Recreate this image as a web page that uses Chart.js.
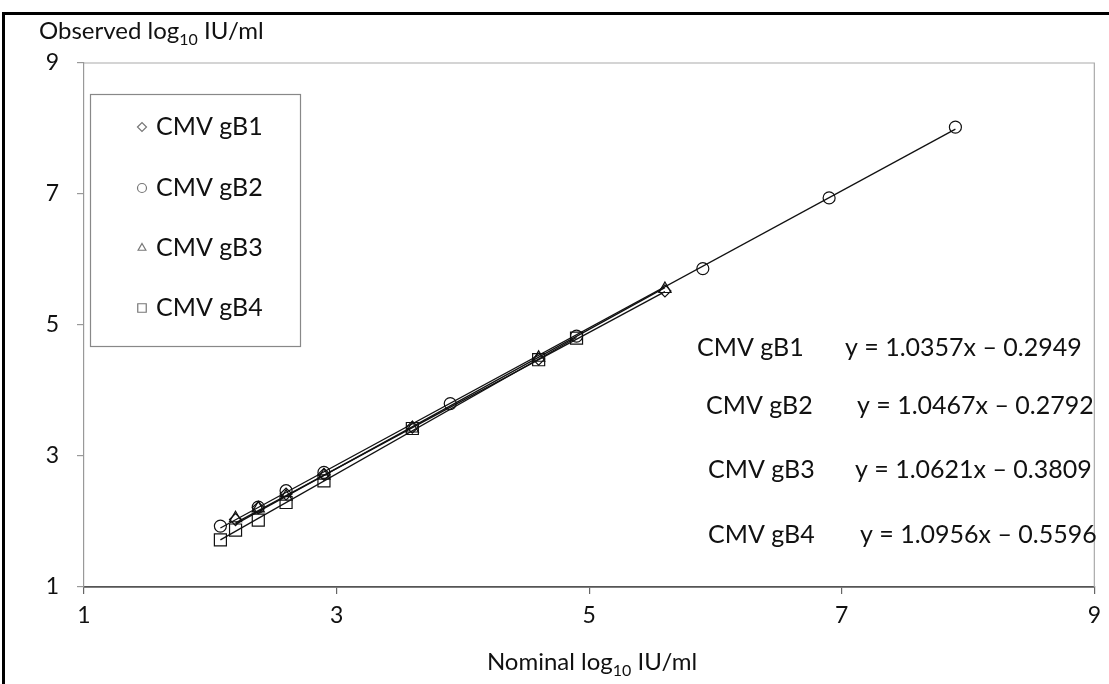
<!DOCTYPE html>
<html>
<head>
<meta charset="utf-8">
<script src="https://cdn.jsdelivr.net/npm/chart.js@4.4.1/dist/chart.umd.min.js"></script>
<style>
  html, body { margin: 0; padding: 0; background: #fff; }
  #wrap { position: relative; width: 1109px; height: 684px; overflow: hidden; }
  #frame { position: absolute; left: 2px; top: 12px; width: 1200px; height: 700px;
           border-left: 3px solid #000; border-top: 3px solid #000; }
  canvas { position: absolute; left: 0; top: 0; }
</style>
</head>
<body>
<div id="wrap">
  <div id="frame"></div>
  <canvas id="chart" width="1109" height="684"></canvas>
</div>
<script>
// Series names and regression equations (as printed on the chart)
const seriesNames = ['CMV gB1', 'CMV gB2', 'CMV gB3', 'CMV gB4'];
const equations = ['y = 1.0357x \u2013 0.2949', 'y = 1.0467x \u2013 0.2792', 'y = 1.0621x \u2013 0.3809', 'y = 1.0956x \u2013 0.5596'];
const markers = ['rectRot', 'circle', 'triangle', 'rect'];

// Axis ticks
const axisTicks = [1, 3, 5, 7, 9];

// Observed points (nominal x, observed y)
const gB1Nominal = [2.2, 2.38, 2.6, 2.9, 3.6, 4.6, 5.6];
const gB1Observed = [2.03, 2.21, 2.42, 2.72, 3.44, 4.48, 5.52];

const gB2Nominal = [2.08, 2.38, 2.6, 2.9, 3.9, 4.9, 5.9, 6.9, 7.9];
const gB2Observed = [1.93, 2.22, 2.47, 2.75, 3.80, 4.83, 5.86, 6.94, 8.02];

const gB3Nominal = [2.2, 2.38, 2.6, 2.9, 3.6, 4.6, 5.6];
const gB3Observed = [2.05, 2.20, 2.38, 2.70, 3.42, 4.50, 5.55];

const gB4Nominal = [2.08, 2.2, 2.38, 2.6, 2.9, 3.6, 4.6, 4.9];
const gB4Observed = [1.72, 1.87, 2.02, 2.29, 2.62, 3.42, 4.47, 4.80];

// Trend line end points
const gB1TrendX = [2.2, 5.6];
const gB1TrendY = [1.98, 5.51];
const gB2TrendX = [2.08, 7.9];
const gB2TrendY = [1.90, 7.99];
const gB3TrendX = [2.2, 5.6];
const gB3TrendY = [1.96, 5.57];
const gB4TrendX = [2.08, 4.9];
const gB4TrendY = [1.72, 4.81];

const FONT = 'Lato, "DejaVu Sans", sans-serif';

function toPoints(xs, ys) {
  return xs.map((x, i) => ({ x: x, y: ys[i] }));
}

const pointSets = [
  toPoints(gB1Nominal, gB1Observed),
  toPoints(gB2Nominal, gB2Observed),
  toPoints(gB3Nominal, gB3Observed),
  toPoints(gB4Nominal, gB4Observed)
];
const trendSets = [
  toPoints(gB1TrendX, gB1TrendY),
  toPoints(gB2TrendX, gB2TrendY),
  toPoints(gB3TrendX, gB3TrendY),
  toPoints(gB4TrendX, gB4TrendY)
];
const markerRadius = { rectRot: 6, circle: 6, triangle: 7, rect: 8.5 };

const datasets = [];
trendSets.forEach((pts, i) => {
  datasets.push({
    label: seriesNames[i] + ' trend',
    data: pts,
    showLine: true,
    borderColor: '#111',
    borderWidth: 1.3,
    pointRadius: 0,
    fill: false
  });
});
pointSets.forEach((pts, i) => {
  datasets.push({
    label: seriesNames[i],
    data: pts,
    showLine: false,
    pointStyle: markers[i],
    pointRadius: markerRadius[markers[i]],
    pointBorderColor: '#111',
    pointBackgroundColor: 'rgba(0,0,0,0)',
    pointBorderWidth: 1.2
  });
});

// Draw text with a subscript part
function drawSubText(ctx, parts, x, y, align) {
  let total = 0;
  parts.forEach(p => {
    ctx.font = (p.sub ? '16px ' : '24px ') + FONT;
    total += ctx.measureText(p.t).width;
  });
  let cx = align === 'center' ? x - total / 2 : x;
  ctx.textAlign = 'left';
  ctx.textBaseline = 'alphabetic';
  parts.forEach(p => {
    ctx.font = (p.sub ? '16px ' : '24px ') + FONT;
    ctx.fillText(p.t, cx, p.sub ? y + 6 : y);
    cx += ctx.measureText(p.t).width;
  });
}

const decorPlugin = {
  id: 'decor',
  beforeDatasetsDraw(chart) {
    const ctx = chart.ctx;
    const a = chart.chartArea;
    ctx.save();
    // plot border top and right
    ctx.strokeStyle = '#aaa';
    ctx.lineWidth = 1.2;
    ctx.beginPath();
    ctx.moveTo(a.left, a.top);
    ctx.lineTo(a.right, a.top);
    ctx.lineTo(a.right, a.bottom);
    ctx.stroke();
    ctx.restore();
  },
  afterDraw(chart) {
    const ctx = chart.ctx;
    ctx.save();
    ctx.fillStyle = '#111';
    // axis titles
    drawSubText(ctx, [{ t: 'Observed log' }, { t: '10', sub: true }, { t: ' IU/ml' }], 39, 39, 'left');
    drawSubText(ctx, [{ t: 'Nominal log' }, { t: '10', sub: true }, { t: ' IU/ml' }], 592, 670, 'center');

    // legend box
    ctx.strokeStyle = '#888';
    ctx.lineWidth = 1.2;
    ctx.strokeRect(90.5, 94.5, 210, 252);
    const legY = [126, 187, 247, 307];
    seriesNames.forEach((name, i) => {
      ctx.fillStyle = 'rgba(0,0,0,0)';
      ctx.strokeStyle = '#777';
      Chart.helpers.drawPoint(ctx, {
        pointStyle: markers[i],
        radius: markers[i] === 'rect' ? 6 : 4.5,
        borderWidth: 1
      }, 142, legY[i] + 1);
      ctx.fillStyle = '#111';
      ctx.font = '25px ' + FONT;
      ctx.textAlign = 'left';
      ctx.textBaseline = 'middle';
      ctx.fillText(name, 156, legY[i] + 1);
    });

    // equations
    const eqY = [348, 406, 470, 535];
    const nameX = [697, 706, 708, 708];
    const eqX = [845, 857, 855, 860];
    ctx.fillStyle = '#111';
    ctx.font = '25px ' + FONT;
    ctx.textBaseline = 'middle';
    seriesNames.forEach((name, i) => {
      ctx.fillText(name, nameX[i], eqY[i]);
      ctx.fillText(equations[i], eqX[i], eqY[i]);
    });
    ctx.restore();
  }
};

new Chart(document.getElementById('chart'), {
  type: 'scatter',
  data: { datasets },
  options: {
    responsive: false,
    animation: false,
    layout: { padding: { left: 0, top: 63, right: 12, bottom: 47 } },
    plugins: { legend: { display: false }, tooltip: { enabled: false } },
    scales: {
      x: {
        type: 'linear',
        min: 1,
        max: 9,
        afterBuildTicks: (s) => { s.ticks = axisTicks.map(v => ({ value: v })); },
        afterFit: (s) => { s.height = 50; },
        ticks: { color: '#111', font: { family: FONT, size: 23 }, padding: 8, maxRotation: 0 },
        grid: { drawOnChartArea: false, drawTicks: true, tickLength: 7, color: '#666', lineWidth: 1.2 },
        border: { color: '#555', width: 1.8 }
      },
      y: {
        type: 'linear',
        min: 1,
        max: 9,
        afterBuildTicks: (s) => { s.ticks = axisTicks.map(v => ({ value: v })); },
        afterFit: (s) => { s.width = 84; },
        ticks: { color: '#111', font: { family: FONT, size: 23 }, padding: 18 },
        grid: { drawOnChartArea: false, drawTicks: true, tickLength: 7, color: '#999', lineWidth: 1.2 },
        border: { color: '#999', width: 1.2 }
      }
    }
  },
  plugins: [decorPlugin]
});
</script>
</body>
</html>
